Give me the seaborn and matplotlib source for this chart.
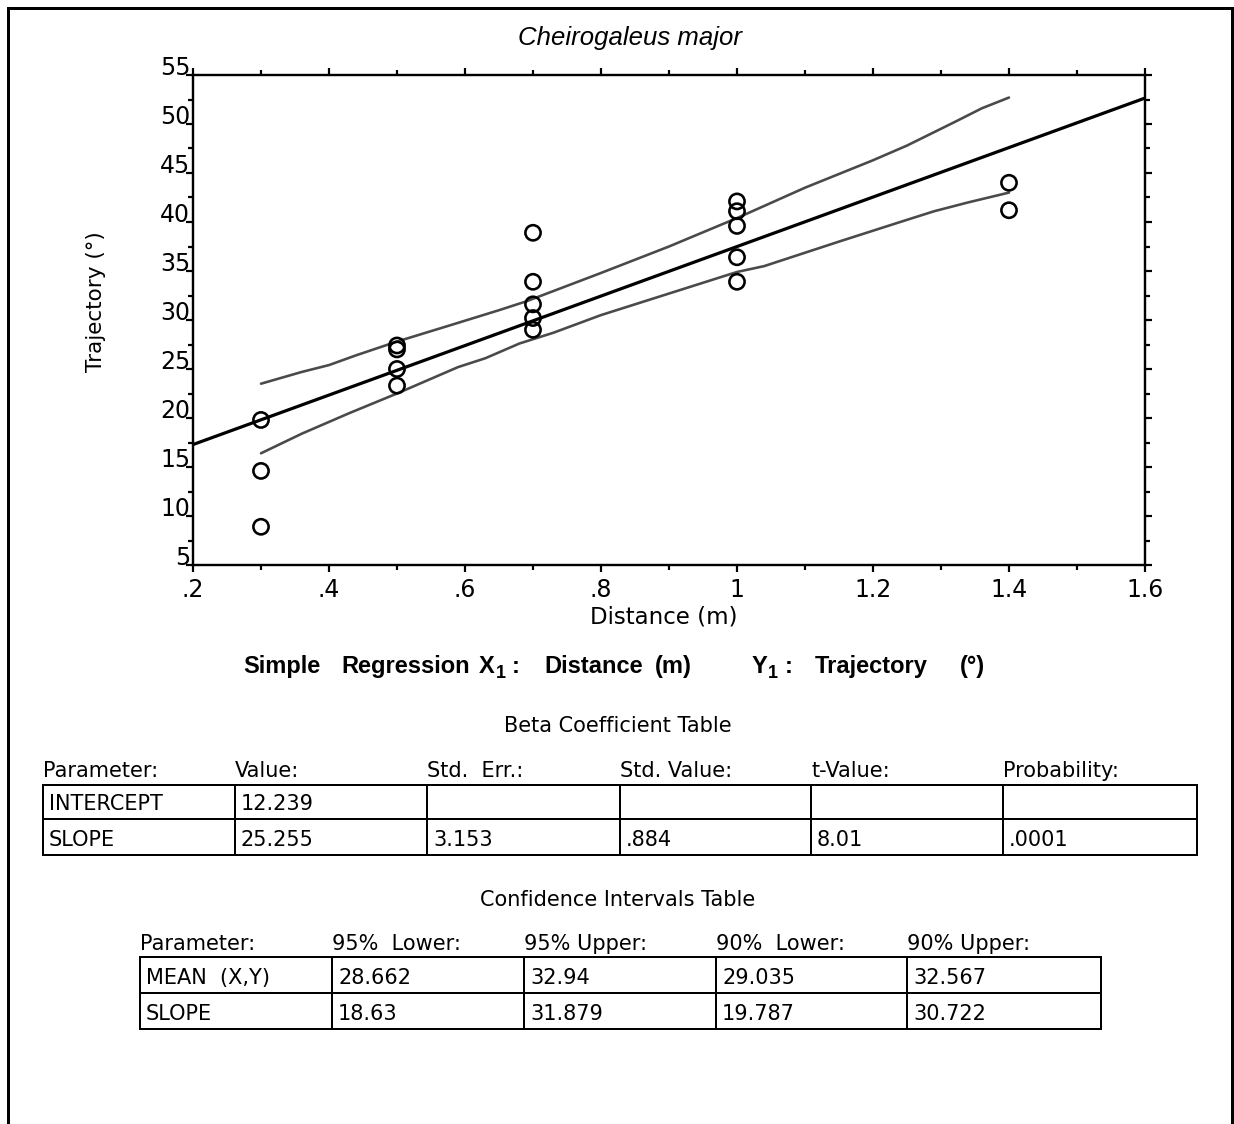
import matplotlib
matplotlib.use("Agg")
import matplotlib.pyplot as plt
import seaborn as sns
import pandas as pd
from matplotlib.ticker import MultipleLocator, FixedLocator

# ---------------- data ----------------
distance = [0.3, 0.3, 0.3,
            0.5, 0.5, 0.5, 0.5,
            0.7, 0.7, 0.7, 0.7, 0.7,
            1.0, 1.0, 1.0, 1.0, 1.0,
            1.4, 1.4]
trajectory = [19.8, 14.6, 8.9,
              27.4, 27.0, 25.0, 23.3,
              38.9, 33.9, 31.6, 30.2, 29.0,
              42.1, 41.1, 39.6, 36.4, 33.9,
              44.0, 41.2]

intercept = 12.239
slope = 25.255

upper_x = [0.30, 0.36, 0.40, 0.44, 0.50, 0.58, 0.65, 0.69, 0.80, 0.90, 1.00, 1.10, 1.20, 1.25, 1.32, 1.36, 1.40]
upper_y = [23.5, 24.7, 25.4, 26.4, 27.8, 29.5, 31.0, 31.9, 34.8, 37.5, 40.4, 43.5, 46.3, 47.8, 50.2, 51.6, 52.7]
lower_x = [0.30, 0.36, 0.43, 0.50, 0.54, 0.59, 0.63, 0.68, 0.73, 0.80, 0.90, 1.00, 1.04, 1.15, 1.24, 1.29, 1.34, 1.40]
lower_y = [16.4, 18.4, 20.5, 22.5, 23.7, 25.2, 26.1, 27.6, 28.7, 30.5, 32.7, 34.9, 35.5, 38.0, 40.0, 41.1, 42.0, 43.0]

x_ticks = [0.2, 0.4, 0.6, 0.8, 1.0, 1.2, 1.4, 1.6]
x_tick_labels = [".2", ".4", ".6", ".8", "1", "1.2", "1.4", "1.6"]
y_ticks = [5, 10, 15, 20, 25, 30, 35, 40, 45, 50, 55]
y_tick_labels = ["5", "10", "15", "20", "25", "30", "35", "40", "45", "50", "55"]

beta_headers = ["Parameter:", "Value:", "Std.  Err.:", "Std. Value:", "t-Value:", "Probability:"]
beta_rows = [["INTERCEPT", "12.239", "", "", "", ""],
             ["SLOPE", "25.255", "3.153", ".884", "8.01", ".0001"]]
ci_headers = ["Parameter:", "95%  Lower:", "95% Upper:", "90%  Lower:", "90% Upper:"]
ci_rows = [["MEAN  (X,Y)", "28.662", "32.94", "29.035", "32.567"],
           ["SLOPE", "18.63", "31.879", "19.787", "30.722"]]

# ---------------- figure ----------------
W, H = 1234, 1124
sns.set_style("ticks")
plt.rcParams["font.family"] = ["DejaVu Sans"]
plt.rcParams["text.color"] = "black"
plt.rcParams["axes.labelcolor"] = "black"
plt.rcParams["xtick.color"] = "black"
plt.rcParams["ytick.color"] = "black"
fig = plt.figure(figsize=(W / 100, H / 100), dpi=100)


def px(v):
    return v * 0.72


# overlay axes in pixel coordinates for frame / text / tables
ov = fig.add_axes([0, 0, 1, 1], zorder=-1)
ov.set_xlim(0, W)
ov.set_ylim(H, 0)
ov.axis("off")

# main axes
L, R, T, B = 193, 1145, 75, 565
ax = fig.add_axes([L / W, 1 - B / H, (R - L) / W, (B - T) / H])
ax.set_facecolor("white")

df = pd.DataFrame({"Distance": distance, "Trajectory": trajectory})
up = pd.DataFrame({"x": upper_x, "y": upper_y})
lo = pd.DataFrame({"x": lower_x, "y": lower_y})

ax.set_xlim(0.2, 1.6)
ax.set_ylim(5, 55)

sns.lineplot(data=up, x="x", y="y", ax=ax, color="#4a4a4a", lw=px(2.6),
             estimator=None, sort=False)
sns.lineplot(data=lo, x="x", y="y", ax=ax, color="#4a4a4a", lw=px(2.6),
             estimator=None, sort=False)
ax.axline((0, intercept), slope=slope, color="black", lw=px(3.2))
sns.scatterplot(data=df, x="Distance", y="Trajectory", ax=ax, marker="o", s=120,
                fc="none", ec="black", linewidth=px(2.6), zorder=5)

for sp in ax.spines.values():
    sp.set_linewidth(px(2.4))
    sp.set_color("black")
    sp.set_visible(True)

ax.xaxis.set_major_locator(FixedLocator(x_ticks))
ax.set_xticklabels(x_tick_labels)
ax.xaxis.set_minor_locator(MultipleLocator(0.1))
ax.yaxis.set_major_locator(FixedLocator(y_ticks))
ax.set_yticklabels(y_tick_labels, va="baseline")
ax.yaxis.set_minor_locator(MultipleLocator(2.5))

ax.tick_params(which="both", direction="out", top=True, right=True,
               width=px(2.2), color="black", labelsize=17, labelcolor="black")
ax.tick_params(which="major", length=px(7))
ax.tick_params(which="minor", length=px(5))
ax.tick_params(axis="y", which="major", pad=-3)
ax.tick_params(axis="x", which="major", pad=4)

ax.set_xlabel("Distance (m)", fontsize=16.5)
ax.xaxis.set_label_coords((664 - L) / (R - L), (B - 605) / (B - T))
ax.set_ylabel("Trajectory (°)", fontsize=15.5)
ax.yaxis.set_label_coords((106 - L) / (R - L), (B - 302) / (B - T))

# title
ov.text(630, 38, "Cheirogaleus major", ha="center", va="center", fontsize=18.5,
        fontstyle="italic", family=["Liberation Sans", "DejaVu Sans"])

# frame
ov.plot([7.5, 7.5, 1231.5, 1231.5], [H, 7.5, 7.5, H], color="black", lw=px(3),
        solid_joinstyle="miter", solid_capstyle="butt")

# regression header line
bold = dict(fontsize=17, fontweight="bold", family=["Liberation Sans", "DejaVu Sans"],
            va="baseline", ha="left")
sub = dict(fontsize=13, fontweight="bold", family=["Liberation Sans", "DejaVu Sans"],
           va="baseline", ha="left")
base = 673
for xpos, s in [(243, "Simple"), (341, "Regression"), (479, "X"), (512, ":"),
                (544, "Distance"), (655, "(m)"), (752, "Y"), (785, ":"),
                (815, "Trajectory"), (960, "(°)")]:
    ov.text(xpos, base, s, **bold)
for xpos in (496, 768):
    ov.text(xpos, base + 5, "1", **sub)

tfont = dict(fontsize=15, va="baseline", ha="left", color="black")

ov.text(618, 726, "Beta Coefficient Table", ha="center", va="center", fontsize=15)
ov.text(618, 900, "Confidence Intervals Table", ha="center", va="center", fontsize=15)


def draw_table(cols, rows_y, headers, cells, header_base):
    for x in cols:
        ov.vlines(x, rows_y[0], rows_y[-1], color="black", lw=px(2))
    for y in rows_y:
        ov.hlines(y, cols[0] - 1, cols[-1] + 1, color="black", lw=px(2))
    for x, h in zip(cols, headers):
        ov.text(x, header_base, h, **tfont)
    for r, row in enumerate(cells):
        for c, val in enumerate(row):
            ov.text(cols[c] + 6, rows_y[r + 1] - 9, val, **tfont)


draw_table([43, 235, 427, 620, 811, 1003, 1197], [785, 819, 855],
           beta_headers, beta_rows, 777)
draw_table([140, 332, 524, 716, 907, 1101], [957, 993, 1029],
           ci_headers, ci_rows, 950)

fig.savefig("out.png", dpi=100, facecolor="white")
